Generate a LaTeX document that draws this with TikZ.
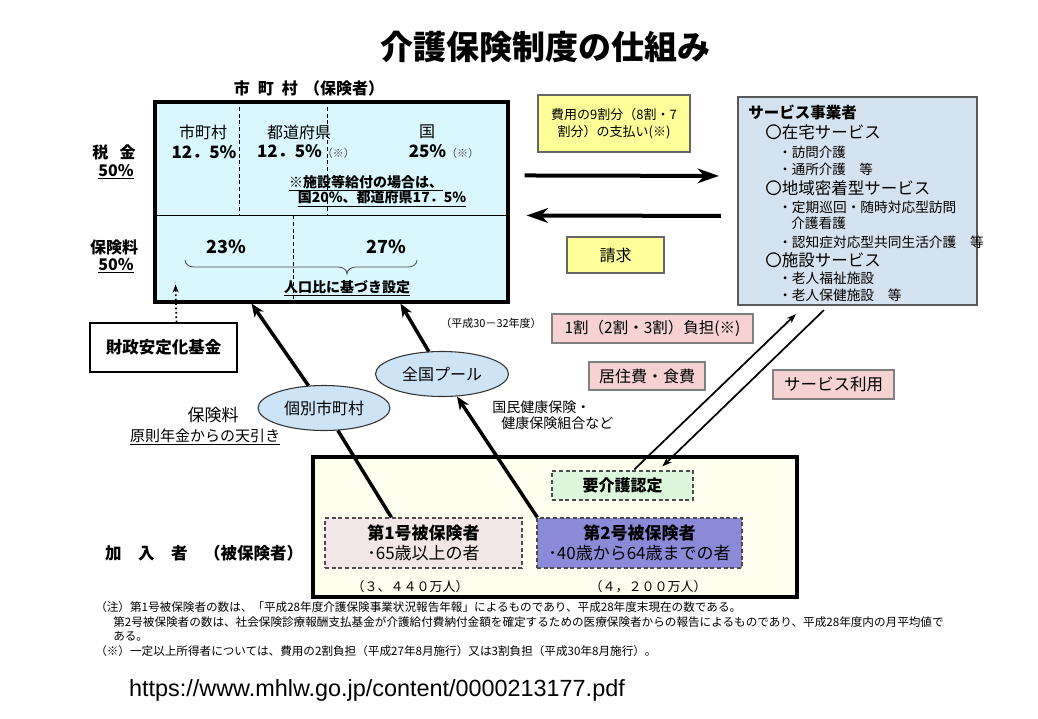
\documentclass[tikz,border=0pt]{standalone}
\usepackage{fontspec}
\setmainfont{Noto Sans CJK JP}
\newfontfamily\urlfont{Liberation Sans}
\usetikzlibrary{arrows.meta,calc,shapes.geometric}
\newcommand\fsz[1]{\fontsize{\dimexpr #1pt*3/4\relax}{\dimexpr #1pt*9/10\relax}\selectfont}
\definecolor{muniC}{HTML}{D9F7FC}
\definecolor{ellC}{HTML}{CCE4F6}
\definecolor{yelC}{HTML}{FFFF99}
\definecolor{svcC}{HTML}{D5E2EF}
\definecolor{pinkC}{HTML}{F6D2D2}
\definecolor{ivoryC}{HTML}{FFFFEF}
\definecolor{greenC}{HTML}{DDF7DD}
\definecolor{daiA}{HTML}{F2E6E6}
\definecolor{daiB}{HTML}{8A8AD8}
\tikzset{
  box/.style={draw, inner sep=0pt},
  sz/.style 2 args={minimum width=#1*0.75pt, minimum height=#2*0.75pt},
  txt/.style={inner sep=0pt},
  yel/.style={box, fill=yelC, draw=black!60, line width=1.2pt},
  pinkbox/.style={box, fill=pinkC, draw=black!50, line width=0.8pt},
  ell/.style={ellipse, draw=black!80, fill=ellC, line width=0.8pt, inner sep=0pt},
  dashbox/.style={box, dashed, dash pattern=on 3pt off 2pt, draw=black!70, line width=0.9pt},
  bigarr/.style={line width=3pt, -{Stealth[length=16pt,width=11pt,inset=5pt]}},
  midarr/.style={line width=2.6pt, -{Stealth[length=10pt,width=8pt,inset=3pt]}},
  midline/.style={line width=2.6pt},
  thinarr/.style={line width=1.3pt, -{Stealth[length=7pt,width=5pt,inset=2pt]}},
  dsh/.style={dashed, dash pattern=on 3pt off 2pt, line width=0.8pt},
}
\begin{document}
\begin{tikzpicture}[x=0.75pt,y=-0.75pt]
\useasboundingbox (0,0) rectangle (1038,718);
\fill[white] (0,0) rectangle (1038,718);

% title
\node[txt,font=\bfseries\fsz{33}] (title) at (545,47) {介護保険制度の仕組み};
\node[txt,font=\bfseries\fsz{16}] (hkh) at (309,88) {市\hspace{0.5em}町\hspace{0.5em}村\hspace{0.4em}（保険者）};

% municipality box
\node[box, sz={353}{200}, fill=muniC, line width=2.3pt] (muni) at (331.5,202) {};
\draw[line width=0.8pt] ($(muni.north west)+(0,115)$) -- ($(muni.north east)+(0,115)$);
\draw[dsh] ($(muni.north west)+(86,0)$) -- ($(muni.north west)+(86,115)$);
\draw[dsh] ($(muni.north west)+(174,0)$) -- ($(muni.north west)+(174,115)$);
\draw[dsh] ($(muni.north west)+(140,115)$) -- ($(muni.south west)+(140,0)$);

\node[txt,font=\fsz{16}] (m1) at (203,132) {市町村};
\node[txt,font=\bfseries\fsz{17}] (m1p) at (204,152) {12．5\%};
\node[txt,font=\fsz{16}] (m2) at (299,132) {都道府県};
\node[txt,font=\bfseries\fsz{17}] (m2p) at (306,152) {12．5\%{\mdseries\fsz{11}\color{black!70}（※）}};
\node[txt,font=\fsz{16}] (m3) at (427,132) {国};
\node[txt,font=\bfseries\fsz{17}] (m3p) at (444,152) {25\%{\mdseries\fsz{11}\color{black!70}（※）}};
\node[txt,font=\bfseries\fsz{14}] (note1) at (366,183) {\underline{※施設等給付の場合は、}};
\node[txt,font=\bfseries\fsz{14}] (note2) at (382,199) {\underline{国20\%、都道府県17．5\%}};
\node[txt,font=\bfseries\fsz{18}] (p23) at (226,247) {23\%};
\node[txt,font=\bfseries\fsz{18}] (p27) at (386,247) {27\%};
\draw[line width=0.6pt, black!70] (185,260) to[out=-90,in=180] (194,267) -- (338,267) to[out=0,in=90] (347,274) to[out=90,in=180] (356,267) -- (408,267) to[out=0,in=-90] (417,260);
\node[txt,font=\bfseries\fsz{14}] (jinko) at (347,288) {\underline{人口比に基づき設定}};

% left labels
\node[txt,font=\bfseries\fsz{16}] (zei) at (114,152) {税\hspace{0.7em}金};
\node[txt,font=\bfseries\fsz{16}] (zeip) at (116,172) {\underline{50\%}};
\node[txt,font=\bfseries\fsz{16}] (hok) at (114,247) {保険料};
\node[txt,font=\bfseries\fsz{16}] (hokp) at (116,266) {\underline{50\%}};

% fund
\node[box, sz={147}{49}, line width=0.8pt, font=\bfseries\fsz{16.5}] (fund) at (163.5,347.5) {財政安定化基金};
\draw[dotted, line width=1.3pt, -{Stealth[length=6pt,width=4.5pt]}] ($(fund.north west)+(87,0)$) -- ($(muni.south west)+(22,-19)$);

% service provider box
\node[box, sz={239}{208}, fill=svcC, draw=black!65, line width=1.6pt] (svc) at (857.5,201) {};
\node[txt,anchor=west,font=\bfseries\fsz{15.5}] (s0) at (748,112) {サービス事業者};
\node[txt,anchor=west,font=\fsz{16.5}] (s1) at (765,132) {〇在宅サービス};
\node[txt,anchor=west,font=\fsz{13.5}] (s2) at (778,152) {・訪問介護};
\node[txt,anchor=west,font=\fsz{13.5}] (s3) at (778,169) {・通所介護　等};
\node[txt,anchor=west,font=\fsz{16.5}] (s4) at (765,188) {〇地域密着型サービス};
\node[txt,anchor=west,font=\fsz{13.7}] (s5) at (778,207) {・定期巡回・随時対応型訪問};
\node[txt,anchor=west,font=\fsz{13.7}] (s6) at (791,223) {介護看護};
\node[txt,anchor=west,font=\fsz{13.7}] (s7) at (778,242) {・認知症対応型共同生活介護　等};
\node[txt,anchor=west,font=\fsz{16.5}] (s8) at (765,260) {〇施設サービス};
\node[txt,anchor=west,font=\fsz{13.7}] (s9) at (778,278) {・老人福祉施設};
\node[txt,anchor=west,font=\fsz{13.7}] (s10) at (778,295) {・老人保健施設　等};

% payment flows
\node[yel, sz={152}{57}, align=center, font=\fsz{13}] (pay) at (614,123.5) {費用の9割分（8割・7\\[1pt]割分）の支払い(※)};
\node[yel, sz={97}{36}, font=\fsz{16}] (seikyu) at (615.5,255) {請求};
\draw[bigarr] ($(muni.north east)+(15,75)$) -- ($(svc.north west)+(-18,80)$);
\draw[bigarr] ($(svc.north west)+(-16,120)$) -- ($(muni.north east)+(17,115)$);

% pink boxes
\node[pinkbox, sz={201}{29}, font=\fsz{15.5}] (futan) at (652.5,328.5) {1割（2割・3割）負担(※)};
\node[pinkbox, sz={116}{28}, font=\fsz{16}] (kyoju) at (647,376) {居住費・食費};
\node[pinkbox, sz={121}{29}, font=\fsz{16.5}] (riyou) at (833.5,384.5) {サービス利用};

% ellipses and labels
\node[ell, sz={132}{45}, font=\fsz{16}] (kobetsu) at (324,408) {個別市町村};
\node[ell, sz={133}{45}, font=\fsz{16}] (zenkoku) at (442,374) {全国プール};
\node[txt,font=\fsz{11}] (heisei) at (491,323) {（平成30－32年度）};
\node[txt,font=\fsz{17}] (hoklbl) at (213,415) {保険料};
\node[txt,font=\fsz{15}] (nenkin) at (205,437) {\underline{原則年金からの天引き}};
\node[txt,anchor=west,font=\fsz{14}] (kokuho1) at (492,407) {国民健康保険・};
\node[txt,anchor=west,font=\fsz{14}] (kokuho2) at (501,423) {健康保険組合など};

% insured box
\node[box, sz={484}{140}, fill=ivoryC, line width=3pt] (kanyu) at (555,527) {};
\node[dashbox, sz={141}{29}, fill=greenC, font=\bfseries\fsz{16}] (kaigo) at (622.5,485.5) {要介護認定};
\node[dashbox, sz={197}{50}, fill=daiA, align=center, font=\fsz{17}] (dai1) at (423.5,543) {\textbf{第1号被保険者}\\･65歳以上の者};
\node[dashbox, sz={205}{50}, fill=daiB, align=center, font=\fsz{17}] (dai2) at (639.5,543) {\textbf{第2号被保険者}\\･40歳から64歳までの者};
\node[txt,font=\fsz{13}] (n1) at (410,587) {（３、４４０万人）};
\node[txt,font=\fsz{13}] (n2) at (648,587) {（４，２００万人）};
\node[txt,font=\bfseries\fsz{16.5}] (kanyulbl) at (204,553) {加　入　者　（被保険者）};

% insured -> insurer flows
\draw[midline] ($(dai1.north west)+(67,0)$) -- (kobetsu);
\draw[midarr] (kobetsu) -- ($(muni.south west)+(98,0)$);
\draw[midarr] ($(dai2.north west)+(1,0)$) -- (zenkoku);
\draw[midarr] (zenkoku) -- ($(muni.south west)+(247,0)$);

% service use arrows
\draw[thinarr] ($(kaigo.north west)+(83,-1)$) -- ($(svc.south west)+(59,8)$);
\draw[thinarr] ($(svc.south west)+(87,4)$) -- ($(kaigo.north west)+(111,-4)$);

% notes
\node[txt,anchor=west,font=\fsz{11.6}] (fn1) at (95,607) {（注）第1号被保険者の数は、「平成28年度介護保険事業状況報告年報」によるものであり、平成28年度末現在の数である。};
\node[txt,anchor=west,font=\fsz{11.6}] (fn2) at (113,622) {第2号被保険者の数は、社会保険診療報酬支払基金が介護給付費納付金額を確定するための医療保険者からの報告によるものであり、平成28年度内の月平均値で};
\node[txt,anchor=west,font=\fsz{11.6}] (fn3) at (113,636) {ある。};
\node[txt,anchor=west,font=\fsz{11.6}] (fn4) at (95,651) {（※）一定以上所得者については、費用の2割負担（平成27年8月施行）又は3割負担（平成30年8月施行）。};

\node[txt,font=\urlfont\fsz{23.4}] (url) at (377,690) {https://www.mhlw.go.jp/content/0000213177.pdf};
\end{tikzpicture}
\end{document}
